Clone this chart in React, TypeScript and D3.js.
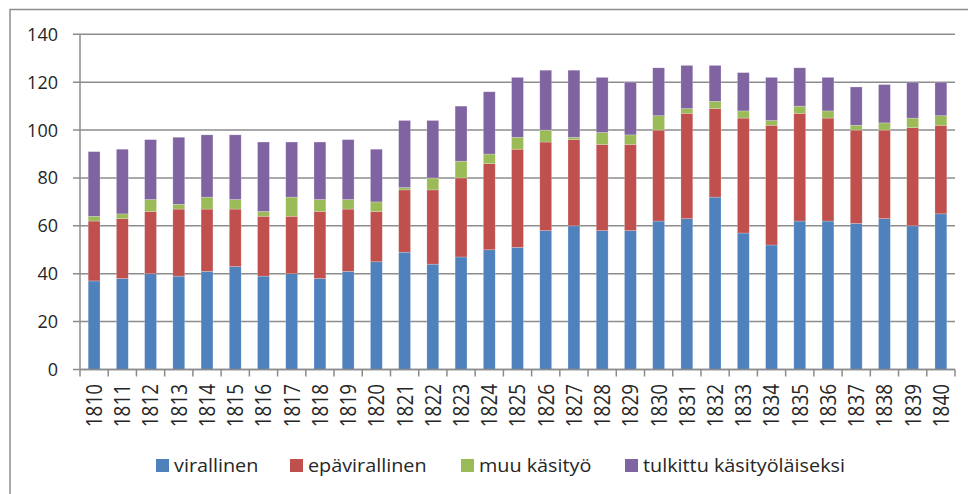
import React, { useRef, useEffect } from 'react';
import * as d3 from 'd3';

const years = [
  '1810', '1811', '1812', '1813', '1814', '1815', '1816', '1817', '1818', '1819', '1820',
  '1821', '1822', '1823', '1824', '1825', '1826', '1827', '1828', '1829', '1830',
  '1831', '1832', '1833', '1834', '1835', '1836', '1837', '1838', '1839', '1840',
];

const virallinen = [37, 38, 40, 39, 41, 43, 39, 40, 38, 41, 45, 49, 44, 47, 50, 51, 58, 60, 58, 58, 62, 63, 72, 57, 52, 62, 62, 61, 63, 60, 65];
const epavirallinen = [25, 25, 26, 28, 26, 24, 25, 24, 28, 26, 21, 26, 31, 33, 36, 41, 37, 36, 36, 36, 38, 44, 37, 48, 50, 45, 43, 39, 37, 41, 37];
const muuKasityo = [2, 2, 5, 2, 5, 4, 2, 8, 5, 4, 4, 1, 5, 7, 4, 5, 5, 1, 5, 4, 6, 2, 3, 3, 2, 3, 3, 2, 3, 4, 4];
const tulkittu = [27, 27, 25, 28, 26, 27, 29, 23, 24, 25, 22, 28, 24, 23, 26, 25, 25, 28, 23, 22, 20, 18, 15, 16, 18, 16, 14, 16, 16, 15, 14];

const seriesNames = ['virallinen', 'epävirallinen', 'muu käsityö', 'tulkittu käsityöläiseksi'];
const seriesColors = ['#4F81BD', '#C0504D', '#9BBB59', '#8064A2'];
const yTicks = [0, 20, 40, 60, 80, 100, 120, 140];

const FONT = '"Open Sans", "Liberation Sans", Arial, sans-serif';
const TEXT = '#262626';
const GRID = '#8c8c8c';

function App() {
  const ref = useRef<SVGSVGElement>(null);

  useEffect(() => {
    const svg = d3.select(ref.current);
    svg.selectAll('*').remove();

    const left = 80, right = 955, top = 34.3, bottom = 369.5;

    const rows = years.map((year, i) => ({
      year,
      virallinen: virallinen[i],
      epavirallinen: epavirallinen[i],
      muu: muuKasityo[i],
      tulkittu: tulkittu[i],
    }));
    const keys = ['virallinen', 'epavirallinen', 'muu', 'tulkittu'];
    const stacked = d3.stack<any>().keys(keys)(rows);

    const x = d3.scaleBand().domain(years).range([left, right]).paddingInner(0.58).paddingOuter(0.29);
    const y = d3.scaleLinear().domain([0, 140]).range([bottom, top]);
    const step = x.step();

    // outer chart frame
    svg.append('rect')
      .attr('x', 10).attr('y', 9.5)
      .attr('width', 1000).attr('height', 600)
      .attr('fill', 'none').attr('stroke', GRID).attr('stroke-width', 1.5);

    // gridlines + y ticks
    svg.append('g').selectAll('line')
      .data(yTicks)
      .join('line')
      .attr('x1', left - 7).attr('x2', right)
      .attr('y1', d => y(d)).attr('y2', d => y(d))
      .attr('stroke', GRID).attr('stroke-width', 1.5);

    svg.append('g').selectAll('text')
      .data(yTicks)
      .join('text')
      .attr('x', 58).attr('y', d => y(d))
      .attr('dy', '0.36em')
      .attr('text-anchor', 'end')
      .style('font-family', FONT).style('font-size', '18px').style('fill', TEXT)
      .text(d => d);

    // bars
    svg.append('g').selectAll('g')
      .data(stacked)
      .join('g')
      .attr('fill', (d, i) => seriesColors[i])
      .selectAll('rect')
      .data(d => d)
      .join('rect')
      .attr('x', d => x(d.data.year)!)
      .attr('y', d => y(d[1]))
      .attr('width', x.bandwidth())
      .attr('height', d => y(d[0]) - y(d[1]))
      .attr('stroke', '#ffffff').attr('stroke-opacity', 0.35).attr('stroke-width', 0.6);

    // axes lines
    svg.append('line')
      .attr('x1', left).attr('x2', left).attr('y1', top).attr('y2', bottom)
      .attr('stroke', GRID).attr('stroke-width', 1.5);
    svg.append('line')
      .attr('x1', left).attr('x2', right).attr('y1', bottom).attr('y2', bottom)
      .attr('stroke', GRID).attr('stroke-width', 1.5);

    // x ticks at band boundaries
    svg.append('g').selectAll('line')
      .data(d3.range(years.length + 1))
      .join('line')
      .attr('x1', i => left + i * step).attr('x2', i => left + i * step)
      .attr('y1', bottom).attr('y2', bottom + 7)
      .attr('stroke', GRID).attr('stroke-width', 1.5);

    // x labels (rotated, a bit squeezed along the text like the original)
    svg.append('g').selectAll('text')
      .data(years)
      .join('text')
      .attr('transform', d => `translate(${x(d)! + x.bandwidth() / 2}, 384) rotate(-90) scale(0.86, 1)`)
      .attr('dy', '0.36em')
      .attr('text-anchor', 'end')
      .style('font-family', FONT).style('font-size', '22px').style('fill', TEXT)
      .text(d => d);

    // legend
    const legendX = [156, 290, 461, 625];
    const legend = svg.append('g').selectAll('g')
      .data(seriesNames)
      .join('g')
      .attr('transform', (d, i) => `translate(${legendX[i]}, 465.5)`);
    legend.append('rect')
      .attr('x', 0).attr('y', -6.5).attr('width', 13).attr('height', 13)
      .attr('fill', (d, i) => seriesColors[i]);
    legend.append('text')
      .attr('transform', 'translate(18, 0) scale(1.1, 1)')
      .attr('dy', '0.36em')
      .style('font-family', FONT).style('font-size', '18px').style('fill', TEXT)
      .text(d => d);
  }, []);

  return (
    <div style={{ position: 'absolute', left: 0, top: 0 }}>
      <svg ref={ref} width={968} height={494} style={{ display: 'block' }} />
    </div>
  );
}

export default App;
